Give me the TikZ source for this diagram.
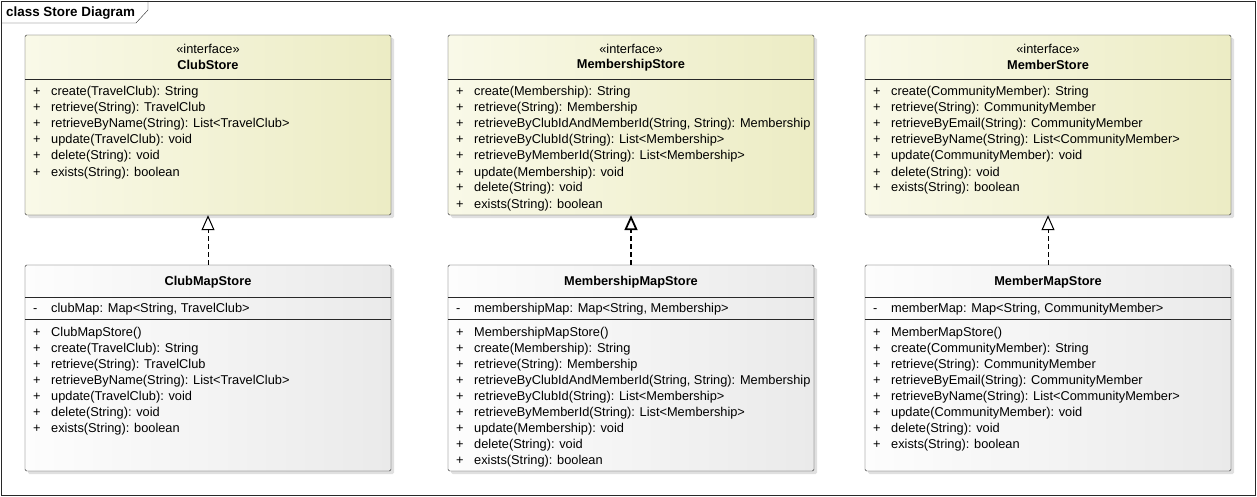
\documentclass[tikz,border=0pt]{standalone}
\usepackage{fontspec}
\setmainfont{Liberation Sans}
\usetikzlibrary{arrows.meta,positioning}

\definecolor{ifaceL}{RGB}{249,249,232}
\definecolor{ifaceR}{RGB}{236,236,196}
\definecolor{mapL}{RGB}{253,253,253}
\definecolor{mapR}{RGB}{234,234,234}
\definecolor{edge}{RGB}{40,40,40}

\tikzset{
  iface/.style={draw=edge, rounded corners=1.5pt, left color=ifaceL, right color=ifaceR,
    minimum width=366pt, minimum height=180pt, inner sep=0pt},
  mapbox/.style={draw=edge, rounded corners=1.5pt, left color=mapL, right color=mapR,
    minimum width=366pt, minimum height=206pt, inner sep=0pt},
  shade/.style={fill=black!12, rounded corners=1.5pt},
  member/.style={anchor=base west, inner sep=0pt, font=\fontsize{12.8}{14}\selectfont},
  title/.style={inner sep=0pt, font=\fontsize{12.8}{14}\selectfont\bfseries},
  stereo/.style={inner sep=0pt, font=\fontsize{12.8}{14}\selectfont},
  realize/.style={dash pattern=on 5pt off 3pt, draw=black,
    -{Triangle[open, length=15pt, width=13pt, fill=white]}}
}

% list of members, one per line, 16pt apart
\newcommand{\memberlist}[4]{%
  \foreach \txt [count=\i from 0] in {#4} {
    \node[member] at (#1+8,-#2-16*\i) {#3};
    \node[member] at (#1+26,-#2-16*\i) {\txt};
  }}

\begin{document}
\begin{tikzpicture}[x=1pt,y=1pt]
\useasboundingbox (0,0) rectangle (1257,-497);

% frame
\draw[edge] (1,-1) rectangle (1255,-495);
\draw[edge] (1,-23) -- (136,-23) -- (148,-10) -- (148,-1);
\node[inner sep=0pt, anchor=base west, font=\fontsize{13.4}{15}\selectfont\bfseries] (frametitle) at (6,-17) {class Store Diagram};

% shadows
\foreach \x in {25,448,865} {
  \fill[shade] (\x+3,-38) rectangle (\x+369,-218);
  \fill[shade] (\x+3,-268) rectangle (\x+369,-474);
}

% interfaces
\node[iface] (cs)  at (208,-125) {};
\node[iface] (ms)  at (631,-125) {};
\node[iface] (mbs) at (1048,-125) {};

% implementations
\node[mapbox] (cms)  at (208,-368) {};
\node[mapbox] (mms)  at (631,-368) {};
\node[mapbox] (mbms) at (1048,-368) {};

% compartment lines
\foreach \n in {cs,ms,mbs} {
  \draw[edge] ([yshift=-44pt]\n.north west) -- ([yshift=-44pt]\n.north east);
}
\foreach \n in {cms,mms,mbms} {
  \draw[edge] ([yshift=-32pt]\n.north west) -- ([yshift=-32pt]\n.north east);
  \draw[edge] ([yshift=-54pt]\n.north west) -- ([yshift=-54pt]\n.north east);
}

% headers
\node[stereo] (csst)  at (208,-49) {«interface»};
\node[title]  (csnm)  at (208,-65) {ClubStore};
\node[stereo] (msst)  at (631,-49) {«interface»};
\node[title]  (msnm)  at (631,-65) {MembershipStore};
\node[stereo] (mbsst) at (1048,-49) {«interface»};
\node[title]  (mbsnm) at (1048,-65) {MemberStore};
\node[title]  (cmsnm)  at (208,-282) {ClubMapStore};
\node[title]  (mmsnm)  at (631,-282) {MembershipMapStore};
\node[title]  (mbmsnm) at (1048,-282) {MemberMapStore};

% operations of the interfaces
\memberlist{25}{96}{+}{create(TravelClub): String, retrieve(String): TravelClub,
  retrieveByName(String): List<TravelClub>, update(TravelClub): void,
  delete(String): void, exists(String): boolean}
\memberlist{448}{96}{+}{create(Membership): String, retrieve(String): Membership,
  {retrieveByClubIdAndMemberId(String, String): Membership},
  retrieveByClubId(String): List<Membership>, retrieveByMemberId(String): List<Membership>,
  update(Membership): void, delete(String): void, exists(String): boolean}
\memberlist{865}{96}{+}{create(CommunityMember): String, retrieve(String): CommunityMember,
  retrieveByEmail(String): CommunityMember, retrieveByName(String): List<CommunityMember>,
  update(CommunityMember): void, delete(String): void, exists(String): boolean}

% attributes
\memberlist{25}{312}{-}{{clubMap: Map<String, TravelClub>}}
\memberlist{448}{312}{-}{{membershipMap: Map<String, Membership>}}
\memberlist{865}{312}{-}{{memberMap: Map<String, CommunityMember>}}

% operations of the map stores
\memberlist{25}{336}{+}{ClubMapStore(), create(TravelClub): String, retrieve(String): TravelClub,
  retrieveByName(String): List<TravelClub>, update(TravelClub): void,
  delete(String): void, exists(String): boolean}
\memberlist{448}{336}{+}{MembershipMapStore(), create(Membership): String, retrieve(String): Membership,
  {retrieveByClubIdAndMemberId(String, String): Membership},
  retrieveByClubId(String): List<Membership>, retrieveByMemberId(String): List<Membership>,
  update(Membership): void, delete(String): void, exists(String): boolean}
\memberlist{865}{336}{+}{MemberMapStore(), create(CommunityMember): String, retrieve(String): CommunityMember,
  retrieveByEmail(String): CommunityMember, retrieveByName(String): List<CommunityMember>,
  update(CommunityMember): void, delete(String): void, exists(String): boolean}

% realizations
\draw[realize, line width=1pt] (cms.north) -- (cs.south);
\draw[realize, line width=1.8pt] (mms.north) -- (ms.south);
\draw[realize, line width=1pt] (mbms.north) -- (mbs.south);
\end{tikzpicture}
\end{document}
